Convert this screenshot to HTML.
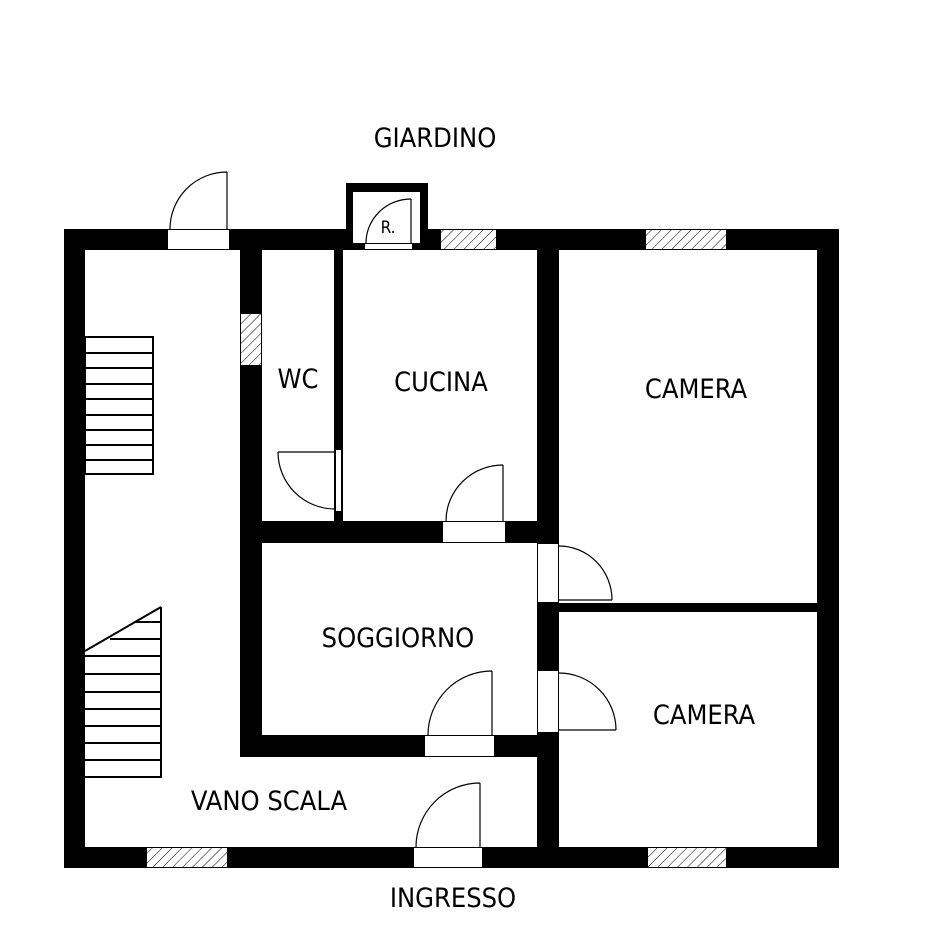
<!DOCTYPE html>
<html><head><meta charset="utf-8"><style>
html,body{margin:0;padding:0;background:#fff;}
svg{display:block;}
text{font-family:"DejaVu Sans Condensed","Liberation Sans",sans-serif;fill:#000;}
</style></head><body>
<svg width="937" height="945" viewBox="0 0 937 945" xmlns="http://www.w3.org/2000/svg">
<defs>
<pattern id="h" width="7" height="7" patternUnits="userSpaceOnUse" patternTransform="rotate(45)">
<rect width="7" height="7" fill="#fff"/><line x1="0" y1="0" x2="0" y2="7" stroke="#000" stroke-width="1"/>
</pattern>
</defs>
<g fill="#000">
<rect x="64" y="229" width="21" height="639"/>
<rect x="64" y="229" width="775" height="21"/>
<rect x="817" y="229" width="22" height="639"/>
<rect x="64" y="847" width="775" height="21"/>
<rect x="240" y="250" width="22" height="507"/>
<rect x="334" y="250" width="9" height="271"/>
<rect x="262" y="521" width="297" height="22"/>
<rect x="537" y="250" width="22" height="597"/>
<rect x="240" y="735" width="319" height="22"/>
<rect x="559" y="603" width="258" height="9"/>
<rect x="346" y="183" width="82" height="67"/>
</g>
<rect x="353" y="192" width="67" height="51" fill="#fff"/>
<g fill="url(#h)" stroke="#000" stroke-width="1">
<rect x="440.5" y="229.5" width="56" height="20"/>
<rect x="645.5" y="229.5" width="81" height="20"/>
<rect x="240.5" y="313.5" width="21" height="52"/>
<rect x="146.5" y="847.5" width="81" height="20"/>
<rect x="647.5" y="847.5" width="79" height="20"/>
</g>
<g fill="#fff" stroke="#000" stroke-width="1">
<rect x="167.5" y="229.5" width="62" height="20"/>
<rect x="364.5" y="243.5" width="48" height="6"/>
<rect x="335.5" y="449.5" width="6" height="62"/>
<rect x="442.5" y="521.5" width="63" height="21"/>
<rect x="537.5" y="543.5" width="21" height="59"/>
<rect x="537.5" y="670.5" width="21" height="62"/>
<rect x="424.5" y="735.5" width="70" height="21"/>
<rect x="413.5" y="847.5" width="69" height="20"/>
</g>
<g fill="none" stroke="#000" stroke-width="1.2">
<path d="M227,229 V172 M170,229 A57,57 0 0 1 227,172"/>
<path d="M411,243 V199 M366,243 A45,44 0 0 1 411,199"/>
<path d="M336,452 H278 M278,452 A57,57 0 0 0 335,509"/>
<path d="M503,521 V465 M446,521 A57,56 0 0 1 503,465"/>
<path d="M559,600 H612 M559,546 A53,54 0 0 1 612,600"/>
<path d="M559,730 H616 M559,673 A57,57 0 0 1 616,730"/>
<path d="M492,735 V671 M428,735 A64,64 0 0 1 492,671"/>
<path d="M480,847 V783 M416,847 A64,64 0 0 1 480,783"/>
</g>
<g fill="none" stroke="#000" stroke-width="2">
<rect x="85" y="337" width="68" height="137"/>
<path d="M85,353H153M85,368H153M85,384H153M85,399H153M85,415H153M85,430H153M85,445H153M85,460H153"/>
<path d="M161,607V777H85M85,651L161,607M135,622H161M110,639H161M85,656H161M85,674H161M85,692H161M85,709H161M85,726H161M85,743H161M85,760H161"/>
</g>
<g font-size="27" text-anchor="middle">
<text x="435" y="147">GIARDINO</text>
<text x="298" y="388">WC</text>
<text x="441" y="391">CUCINA</text>
<text x="696" y="398">CAMERA</text>
<text x="398" y="647">SOGGIORNO</text>
<text x="704" y="724">CAMERA</text>
<text x="269" y="810">VANO SCALA</text>
<text x="453" y="907">INGRESSO</text>
<text x="388" y="233" font-size="17">R.</text>
</g>
</svg>
</body></html>
